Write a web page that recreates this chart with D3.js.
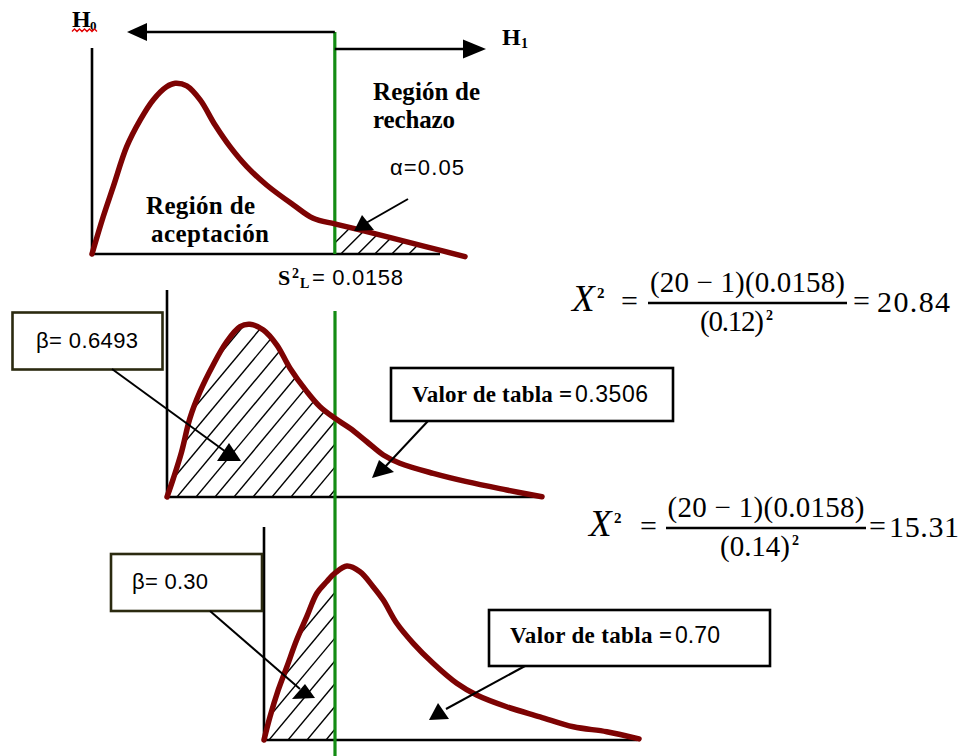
<!DOCTYPE html>
<html><head><meta charset="utf-8">
<script src="https://cdn.jsdelivr.net/npm/d3@7"></script>
<style>body{margin:0;background:#fff}svg{display:block}</style>
</head><body><svg id="c" width="971" height="756"></svg>
<script>
// ---------------- data ----------------
// x: position along each panel's horizontal axis (0..100), y: curve height (0..100 of the axis)
const curveTopX = [0, 3.0, 5.7, 9.3, 12.9, 16.4, 20.0, 22.3, 25.4, 29.0, 33.0, 37.0, 41.5, 46.8, 54.0, 59.3, 65.1, 71.8, 80.8, 89.7, 100];
const curveTopY = [0, 18.1, 32.7, 52.1, 65.0, 74.8, 81.2, 82.9, 81.6, 74.8, 62.6, 52.1, 42.4, 33.5, 23.8, 17.3, 14.6, 11.7, 7.6, 3.5, -1.3];
const curveMidX = [0, 1.7, 3.9, 6.1, 8.8, 12.3, 15.9, 19.5, 22.1, 25.7, 29.3, 32.8, 37.3, 40.8, 44.8, 48.8, 53.3, 57.7, 62.1, 71.0, 79.9, 90.6, 100];
const curveMidY = [0, 9.0, 21.9, 38.0, 50.9, 63.8, 75.0, 82.3, 83.4, 80.7, 73.4, 62.2, 50.9, 43.6, 38.0, 33.2, 26.7, 20.3, 16.3, 11.4, 7.4, 3.4, 0.1];
const curveBotX = [0, 1.6, 3.8, 6.1, 8.7, 11.4, 14.1, 16.7, 18.9, 22.1, 25.6, 29.1, 31.8, 35.4, 39.8, 45.1, 51.4, 56.7, 64.7, 73.6, 82.5, 91.4, 100];
const curveBotY = [0, 10.9, 23.5, 34.4, 46.9, 57.9, 68.9, 74.3, 78.3, 81.7, 79.0, 72.0, 65.7, 54.8, 45.4, 36.0, 26.6, 21.1, 15.6, 10.9, 6.2, 3.9, 0.5];
const criticalValues = [65.1, 44.8, 18.9];      // green line position in each panel
const shadedSpans = [[65.1, 88], [0, 44.8], [0, 18.9]];
const axisEnds = [93.3, 99.2, 99.5];

const hypothesisLabels = ["H", "0", "H", "1"];
const regionLabels = ["Región de", "rechazo", "Región de", "aceptación"];
const alphaLabel = "α=0.05";
const s2Value = "0.0158";
const betaLabels = ["β= 0.6493", "β= 0.30"];
const tablePrefix = "Valor de tabla =";
const tableValues = ["0.3506", "0.70"];
const formulaNumerator = "(20 − 1)(0.0158)";
const formulaDenoms = ["(0.12)", "(0.14)"];
const formulaResults = ["20.84", "15.31"];

// ---------------- layout ----------------
const svg = d3.select('#c');
const SERIF = '"Liberation Serif","Times New Roman",serif';
const SANS = '"Liberation Sans",Arial,sans-serif';
const RED = '#7d0303', GREEN = '#138c13';

const frames = [
  {left: 92, right: 465, base: 254, top: 48, hatch: {slope: 1.0, gap: 17}},
  {left: 167, right: 542, base: 497, top: 290, hatch: {slope: 1.2, gap: 19}},
  {left: 264, right: 639, base: 740, top: 527, hatch: {slope: 1.2, gap: 19}}
];
const curves = [[curveTopX, curveTopY], [curveMidX, curveMidY], [curveBotX, curveBotY]];

const defs = svg.append('defs');
const layerAxes = svg.append('g');
const layerHatch = svg.append('g');
const layerGreen = svg.append('g');
const layerCurve = svg.append('g');
const layerAnno = svg.append('g');

const scales = frames.map(f => ({
  x: d3.scaleLinear().domain([0, 100]).range([f.left, f.right]),
  y: d3.scaleLinear().domain([0, 100]).range([f.base, f.top])
}));

frames.forEach((f, i) => {
  const {x, y} = scales[i];
  const pts = curves[i][0].map((v, j) => [v, curves[i][1][j]]);
  layerAxes.append('line').attr('x1', x(0)).attr('x2', x(0)).attr('y1', y(0) + 1).attr('y2', y(100))
    .attr('stroke', '#000').attr('stroke-width', 2.6);
  layerAxes.append('line').attr('x1', x(0) - 1).attr('x2', x(axisEnds[i])).attr('y1', y(0)).attr('y2', y(0))
    .attr('stroke', '#000').attr('stroke-width', 2.6);

  const [a, b] = shadedSpans[i];
  const area = d3.area().x(d => x(d[0])).y0(y(0)).y1(d => y(d[1])).curve(d3.curveCatmullRom.alpha(0.5));
  const interp = v => {
    for (let k = 0; k < pts.length - 1; k++) {
      if (v >= pts[k][0] && v <= pts[k + 1][0]) {
        const t = (v - pts[k][0]) / (pts[k + 1][0] - pts[k][0]);
        return pts[k][1] + t * (pts[k + 1][1] - pts[k][1]);
      }
    }
    return 0;
  };
  const inside = [[a, interp(a)], ...pts.filter(p => p[0] > a && p[0] < b), [b, interp(b)]];
  const cid = 'clip' + i;
  defs.append('clipPath').attr('id', cid).append('path').attr('d', area(inside));
  const g = layerHatch.append('g').attr('clip-path', `url(#${cid})`);
  const H = f.base - f.top + 10;
  const run = H / f.hatch.slope;
  for (let sx = x(a) - run; sx < x(b) + 2; sx += f.hatch.gap) {
    g.append('line').attr('x1', sx).attr('y1', f.base + 1).attr('x2', sx + run).attr('y2', f.base + 1 - H)
      .attr('stroke', '#000').attr('stroke-width', 1.4);
  }

  const line = d3.line().x(d => x(d[0])).y(d => y(d[1])).curve(d3.curveCatmullRom.alpha(0.5));
  layerCurve.append('path').attr('d', line(pts)).attr('fill', 'none').attr('stroke', RED)
    .attr('stroke-width', 5.5).attr('stroke-linecap', 'round').attr('stroke-linejoin', 'round');
});

// green critical line
const gx0 = scales[0].x(criticalValues[0]);
const gx1 = scales[1].x(criticalValues[1]);
layerGreen.append('line').attr('x1', gx0).attr('x2', gx0).attr('y1', 32).attr('y2', frames[0].base)
  .attr('stroke', GREEN).attr('stroke-width', 3.2);
layerGreen.append('line').attr('x1', gx1).attr('x2', gx1).attr('y1', 311).attr('y2', 756)
  .attr('stroke', GREEN).attr('stroke-width', 3.2);

// ---------------- annotations ----------------
const A = layerAnno;
function txt(x, y, s, o = {}) {
  const t = A.append('text').attr('x', x).attr('y', y).text(s)
    .attr('font-family', o.family || SERIF).attr('font-size', o.size || 22)
    .attr('font-weight', o.weight || 'normal').attr('fill', '#000');
  if (o.italic) t.attr('font-style', 'italic');
  if (o.len) t.attr('textLength', o.len).attr('lengthAdjust', 'spacing');
  if (o.anchor) t.attr('text-anchor', o.anchor);
  return t;
}
function seg(x1, y1, x2, y2, w = 2) {
  A.append('line').attr('x1', x1).attr('y1', y1).attr('x2', x2).attr('y2', y2)
    .attr('stroke', '#000').attr('stroke-width', w);
}
function tri(p) {
  A.append('polygon').attr('points', p.map(d => d.join(',')).join(' ')).attr('fill', '#000');
}
function box(x, y, w, h, col) {
  A.append('rect').attr('x', x).attr('y', y).attr('width', w).attr('height', h)
    .attr('fill', '#fff').attr('stroke', col).attr('stroke-width', 2.6);
}

// hypothesis arrows
seg(gx0, 32, 142, 32, 2.6);
tri([[127, 32], [147, 23], [147, 41]]);
seg(gx0, 49, 468, 49, 2.6);
tri([[486, 49], [463, 39.5], [463, 58.5]]);
txt(72, 27, hypothesisLabels[0], {size: 24, weight: 'bold'});
txt(90, 30, hypothesisLabels[1], {size: 13, weight: 'bold'});
A.append('path').attr('d', 'M72,31.5 l2.5,-2.5 l2.5,2.5 l2.5,-2.5 l2.5,2.5 l2.5,-2.5 l2.5,2.5 l2.5,-2.5 l2.5,2.5 l2.5,-2.5 l2.5,2.5')
  .attr('fill', 'none').attr('stroke', '#e00000').attr('stroke-width', 1.3);
txt(502, 45, hypothesisLabels[2], {size: 24, weight: 'bold'});
txt(521, 48, hypothesisLabels[3], {size: 14, weight: 'bold'});

// region labels
txt(373, 100, regionLabels[0], {size: 25, weight: 'bold', len: 107});
txt(373, 128, regionLabels[1], {size: 25, weight: 'bold', len: 82});
txt(146, 214, regionLabels[2], {size: 25, weight: 'bold', len: 109});
txt(151, 242, regionLabels[3], {size: 25, weight: 'bold', len: 118});

// alpha
txt(390, 175, alphaLabel, {size: 22, family: SANS, len: 74});
seg(408, 199, 366, 223, 2);
tri([[362, 215], [354, 231], [374, 230]]);

// S^2_L
txt(278, 285, 'S', {size: 22, weight: 'bold'});
txt(292, 278, '2', {size: 14, weight: 'bold'});
txt(300, 288, 'L', {size: 14, weight: 'bold'});
txt(312, 285, '= ' + s2Value, {size: 22, family: SANS, len: 91});

// beta 1
box(12.5, 312.5, 150, 57, '#2b2a10');
txt(36, 348, betaLabels[0], {size: 22, family: SANS, len: 102});
seg(112, 369, 226, 452, 2);
tri([[229, 443], [217, 461], [241, 461]]);

// table value 1
box(391, 368, 282, 53, '#000');
txt(412, 402, tablePrefix, {size: 23, weight: 'bold', len: 160});
txt(575, 402, tableValues[0], {size: 23, family: SANS, len: 73});
seg(428, 421, 384, 468, 2);
tri([[372, 478], [379, 460], [394, 472]]);

// beta 2
box(111, 554, 151, 57, '#2b2a10');
txt(132, 589, betaLabels[1], {size: 22, family: SANS, len: 76});
seg(210, 611, 300, 689, 2);
tri([[305, 684], [292, 699], [315, 698]]);

// table value 2
box(489, 610, 281, 56, '#000');
txt(510, 643, tablePrefix, {size: 23, weight: 'bold', len: 162});
txt(675, 643, tableValues[1], {size: 23, family: SANS, len: 45});
seg(525, 666, 446, 709, 2);
tri([[438, 703], [429, 720], [449, 719]]);

// formulas
function formula(o, den, res) {
  txt(o.xX, o.base, 'X', {size: 37, italic: true});
  txt(o.xX + 25, o.base - 13, '2', {size: 15, weight: 'bold'});
  txt(o.xEq, o.base, '=', {size: 30});
  txt((o.bar0 + o.bar1) / 2, o.bar - 11, formulaNumerator, {size: 29, anchor: 'middle', len: o.numLen});
  A.append('line').attr('x1', o.bar0).attr('x2', o.bar1).attr('y1', o.bar).attr('y2', o.bar)
    .attr('stroke', '#000').attr('stroke-width', 2.6);
  txt(o.xDen, o.bar + 28, den, {size: 29, len: o.denLen});
  txt(o.xDen + o.denLen + 2, o.bar + 17, '2', {size: 14, weight: 'bold'});
  txt(o.xEq2, o.base, '=', {size: 30});
  txt(o.xRes, o.base + 0.5, res, {size: 30, len: o.resLen});
}
formula({xX: 572, base: 311, xEq: 621, bar0: 648, bar1: 847, bar: 303, numLen: 195,
  xDen: 700, denLen: 64, xEq2: 853, xRes: 877, resLen: 73}, formulaDenoms[0], formulaResults[0]);
formula({xX: 589, base: 536, xEq: 640, bar0: 666, bar1: 866, bar: 528, numLen: 197,
  xDen: 720, denLen: 70, xEq2: 869, xRes: 889, resLen: 70}, formulaDenoms[1], formulaResults[1]);
</script>
</body></html>
